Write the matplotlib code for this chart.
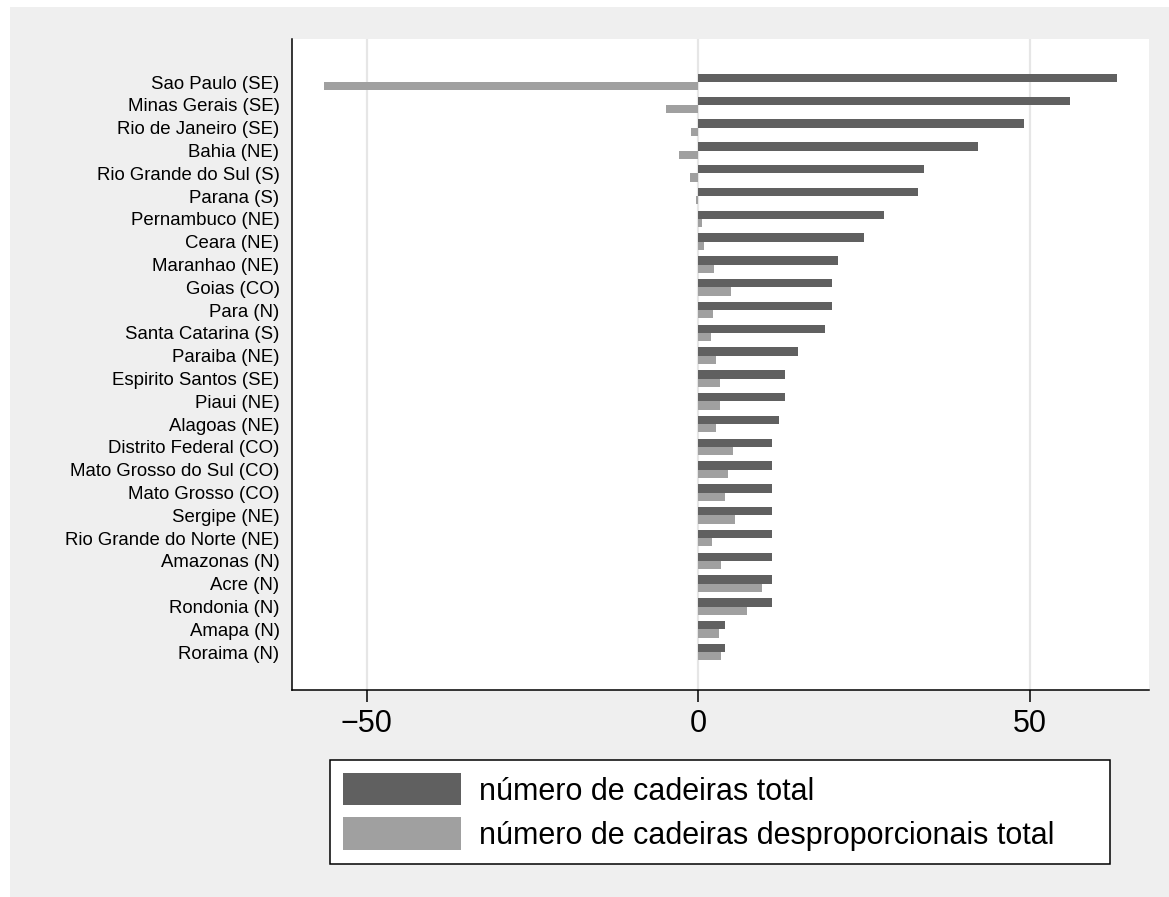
import matplotlib
matplotlib.use("Agg")
import matplotlib.pyplot as plt
import numpy as np
from matplotlib.patches import Rectangle

plt.rcParams["font.family"] = ["Liberation Sans", "DejaVu Sans"]

estados = ["Sao Paulo (SE)", "Minas Gerais (SE)", "Rio de Janeiro (SE)", "Bahia (NE)",
           "Rio Grande do Sul (S)", "Parana (S)", "Pernambuco (NE)", "Ceara (NE)",
           "Maranhao (NE)", "Goias (CO)", "Para (N)", "Santa Catarina (S)", "Paraiba (NE)",
           "Espirito Santos (SE)", "Piaui (NE)", "Alagoas (NE)", "Distrito Federal (CO)",
           "Mato Grosso do Sul (CO)", "Mato Grosso (CO)", "Sergipe (NE)",
           "Rio Grande do Norte (NE)", "Amazonas (N)", "Acre (N)", "Rondonia (N)",
           "Amapa (N)", "Roraima (N)"]
cadeiras_total = [63.1, 56.1, 49.1, 42.1, 34.1, 33.1, 28.0, 25.0, 21.1, 20.1, 20.1, 19.1, 15.1,
                  13.1, 13.1, 12.1, 11.1, 11.1, 11.1, 11.1, 11.1, 11.1, 11.1, 11.1, 4.1, 4.1]
cadeiras_desp = [-56.4, -4.8, -1.1, -2.9, -1.3, -0.3, 0.5, 0.8, 2.4, 5.0, 2.2, 1.9, 2.7,
                 3.3, 3.2, 2.6, 5.2, 4.5, 4.1, 5.5, 2.0, 3.5, 9.6, 7.4, 3.1, 3.4]
rotulos = ["número de cadeiras total", "número de cadeiras desproporcionais total"]

ESCURO = "#606060"; CLARO = "#a0a0a0"; FUNDO = "#efefef"

fig = plt.figure(figsize=(11.69, 8.97), dpi=100)
fig.patch.set_facecolor("white")
fig.patches.append(Rectangle((10/1169, 0), 1159/1169, 890/897, transform=fig.transFigure,
                             facecolor=FUNDO, edgecolor="none", zorder=-10))

ax = fig.add_axes([292/1169, 1-690/897, (1149-292)/1169, (690-39)/897])
ax.set_facecolor("white")

y = np.arange(len(estados))
h = 0.365
ax.barh(y - h/2, cadeiras_total, height=h, color=ESCURO, label=rotulos[0], zorder=3)
ax.barh(y + h/2, cadeiras_desp, height=h, color=CLARO, label=rotulos[1], zorder=3)

ax.set_xlim(-61.25, 67.95)
ax.set_ylim(len(estados) - 1 + 1.66, -1.89)
ax.set_yticks(y)
ax.set_yticklabels(estados, fontsize=13.4)
ax.tick_params(axis="y", length=0, pad=9)
ax.set_xticks([-50, 0, 50])
ax.set_xticklabels(["\u221250", "0", "50"], fontsize=22)
ax.tick_params(axis="x", length=8.6, width=1.1, pad=5, color="black")
for v in [-50, 0, 50]:
    ax.axvline(v, color="#e6e6e6", lw=1.6, zorder=1)
for s in ["top", "right"]:
    ax.spines[s].set_visible(False)
for s in ["left", "bottom"]:
    ax.spines[s].set_linewidth(1.1)
    ax.spines[s].set_color("black")

leg = fig.legend(loc="upper left", bbox_to_anchor=(330/1169, 35/897, 780/1169, 102/897),
                 mode="expand", borderaxespad=0, fontsize=22, handlelength=3.86,
                 handleheight=1.25, handletextpad=0.59, borderpad=0.43, labelspacing=0.35,
                 fancybox=False, framealpha=1)
leg.get_frame().set_edgecolor("black")
leg.get_frame().set_linewidth(1.1)

fig.savefig("out.png", dpi=100)
